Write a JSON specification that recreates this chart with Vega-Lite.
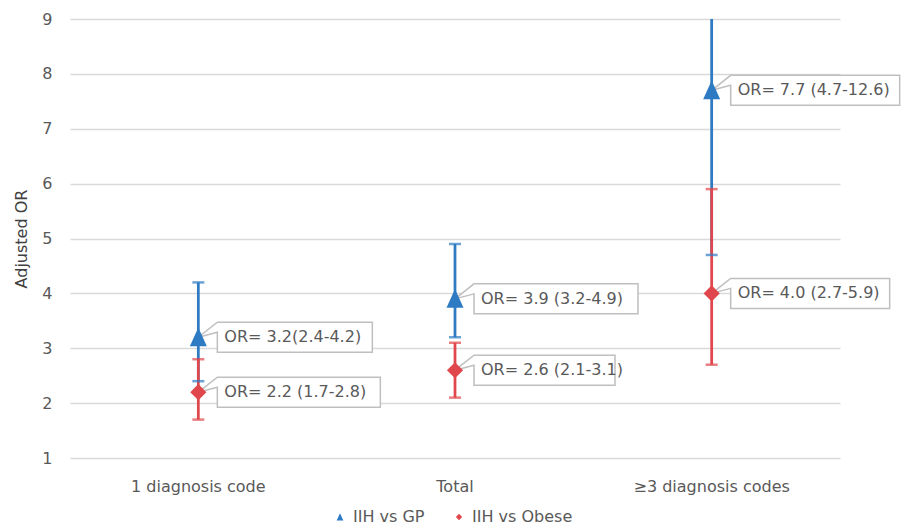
{
  "$schema": "https://vega.github.io/schema/vega-lite/v6.json",
  "width": 770,
  "height": 439,
  "autosize": {"type": "none"},
  "padding": {"left": 70, "top": 19, "right": 64, "bottom": 72},
  "background": "white",
  "config": {
    "view": {"stroke": null},
    "font": "DejaVu Sans",
    "axis": {"labelFont": "DejaVu Sans", "titleFont": "DejaVu Sans"},
    "legend": {"labelFont": "DejaVu Sans"}
  },
  "data": {
    "values": [
      {"cat": "1 diagnosis code", "series": "IIH vs GP", "or": 3.2, "lo": 2.4, "hi": 4.2, "label": "OR= 3.2(2.4-4.2)"},
      {"cat": "Total", "series": "IIH vs GP", "or": 3.9, "lo": 3.2, "hi": 4.9, "label": "OR= 3.9 (3.2-4.9)"},
      {"cat": "≥3 diagnosis codes", "series": "IIH vs GP", "or": 7.7, "lo": 4.7, "hi": 12.6, "label": "OR= 7.7 (4.7-12.6)"},
      {"cat": "1 diagnosis code", "series": "IIH vs Obese", "or": 2.2, "lo": 1.7, "hi": 2.8, "label": "OR= 2.2 (1.7-2.8)"},
      {"cat": "Total", "series": "IIH vs Obese", "or": 2.6, "lo": 2.1, "hi": 3.1, "label": "OR= 2.6 (2.1-3.1)"},
      {"cat": "≥3 diagnosis codes", "series": "IIH vs Obese", "or": 4.0, "lo": 2.7, "hi": 5.9, "label": "OR= 4.0 (2.7-5.9)"}
    ]
  },
  "encoding": {
    "x": {
      "field": "cat",
      "type": "nominal",
      "sort": ["1 diagnosis code", "Total", "≥3 diagnosis codes"],
      "scale": {"paddingInner": 0, "paddingOuter": 0},
      "axis": {
        "title": null,
        "labelAngle": 0,
        "labelFontSize": 16,
        "labelColor": "#595959",
        "labelPadding": 20,
        "ticks": false,
        "domain": false,
        "grid": false
      }
    }
  },
  "resolve": {"scale": {"color": "independent", "shape": "independent"}},
  "layer": [
    {
      "mark": {"type": "rule", "strokeWidth": 2.75, "clip": true},
      "encoding": {
        "y": {
          "field": "lo", "type": "quantitative",
          "scale": {"domain": [1, 9], "nice": false, "zero": false},
          "axis": {
            "title": "Adjusted OR",
            "values": [1, 2, 3, 4, 5, 6, 7, 8, 9],
            "labelFontSize": 16,
            "labelColor": "#595959",
            "labelPadding": 18,
            "ticks": false,
            "domain": false,
            "gridColor": "#D9D9D9",
            "gridWidth": 1.3,
            "titleFontSize": 16,
            "titleFontWeight": "normal",
            "titleColor": "#404040",
            "titlePadding": 12
          }
        },
        "y2": {"field": "hi"},
        "color": {"field": "series", "type": "nominal", "scale": {"domain": ["IIH vs GP", "IIH vs Obese"], "range": ["#2E7BC4", "#E0474C"]}, "legend": null}
      }
    },
    {
      "mark": {"type": "tick", "thickness": 2.5, "size": 12, "clip": true},
      "encoding": {
        "y": {"field": "lo", "type": "quantitative", "title": "Adjusted OR"},
        "color": {"field": "series", "type": "nominal", "scale": {"domain": ["IIH vs GP", "IIH vs Obese"], "range": ["#2E7BC4", "#E0474C"]}, "legend": null}
      }
    },
    {
      "mark": {"type": "tick", "thickness": 2.5, "size": 12, "clip": true},
      "encoding": {
        "y": {"field": "hi", "type": "quantitative", "title": "Adjusted OR"},
        "color": {"field": "series", "type": "nominal", "scale": {"domain": ["IIH vs GP", "IIH vs Obese"], "range": ["#2E7BC4", "#E0474C"]}, "legend": null}
      }
    },
    {
      "mark": {"type": "point", "filled": true, "fill": "white", "stroke": "#BFBFBF", "strokeWidth": 1.5, "size": 4, "opacity": 1},
      "encoding": {
        "y": {"field": "or", "type": "quantitative", "title": "Adjusted OR"},
        "shape": {
          "field": "label", "type": "nominal", "legend": null,
          "scale": {
            "domain": ["OR= 3.2(2.4-4.2)", "OR= 2.2 (1.7-2.8)", "OR= 3.9 (3.2-4.9)", "OR= 2.6 (2.1-3.1)", "OR= 7.7 (4.7-12.6)", "OR= 4.0 (2.7-5.9)"],
            "range": [
              "M0,0L19,-5L19,15L174,15L174,-15L19,-15Z",
              "M0,0L19,-5L19,15L182,15L182,-15L19,-15Z",
              "M0,0L19,-5L19,15L183,15L183,-15L19,-15Z",
              "M0,0L19,-5L19,15L160,15L160,-15L19,-15Z",
              "M0,0L19,-5L19,15L188,15L188,-15L19,-15Z",
              "M0,0L19,-5L19,15L178,15L178,-15L19,-15Z"
            ]
          }
        }
      }
    },
    {
      "mark": {"type": "point", "filled": true, "size": 289, "opacity": 1},
      "encoding": {
        "y": {"field": "or", "type": "quantitative", "title": "Adjusted OR"},
        "color": {
          "field": "series", "type": "nominal",
          "scale": {"domain": ["IIH vs GP", "IIH vs Obese"], "range": ["#2E7BC4", "#E0474C"]},
          "legend": {
            "title": null, "orient": "none", "legendX": 262, "legendY": 490, "direction": "horizontal",
            "labelFontSize": 16, "labelColor": "#595959", "symbolSize": 45, "labelOffset": 5,
            "columnPadding": 26, "symbolStrokeWidth": 0
          }
        },
        "shape": {
          "field": "series", "type": "nominal",
          "scale": {"domain": ["IIH vs GP", "IIH vs Obese"], "range": ["M-1,1.05L1,1.05L0,-1.15Z", "M0,-0.95L0.95,0L0,0.95L-0.95,0Z"]},
          "legend": {
            "title": null, "orient": "none", "legendX": 262, "legendY": 490, "direction": "horizontal",
            "labelFontSize": 16, "labelColor": "#595959", "symbolSize": 45, "labelOffset": 5,
            "columnPadding": 26, "symbolStrokeWidth": 0
          }
        }
      }
    },
    {
      "mark": {"type": "text", "align": "left", "baseline": "middle", "dx": 26, "fontSize": 16, "color": "#595959"},
      "encoding": {
        "y": {"field": "or", "type": "quantitative", "title": "Adjusted OR"},
        "text": {"field": "label"}
      }
    }
  ]
}
